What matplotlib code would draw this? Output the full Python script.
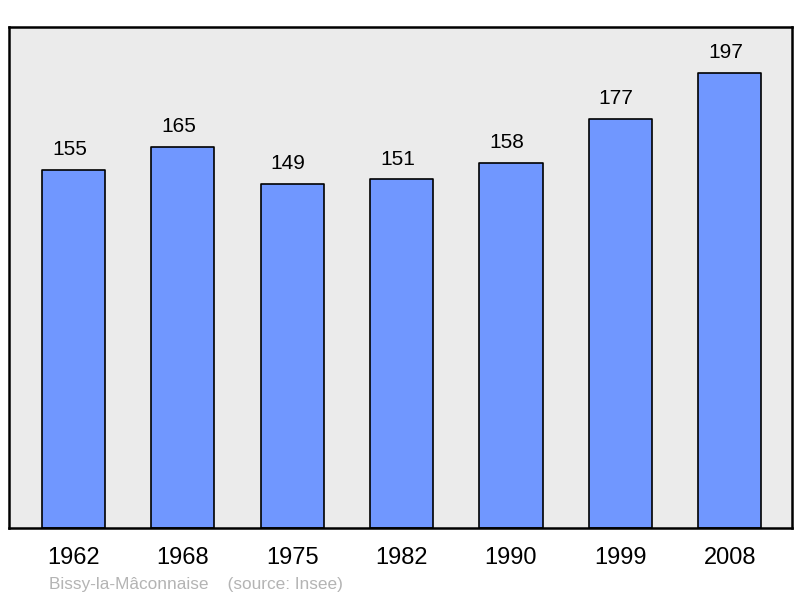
import matplotlib.pyplot as plt
from matplotlib.transforms import offset_copy

plt.rcParams["font.family"] = ["Liberation Sans", "DejaVu Sans"]

# Population data
years = ["1962", "1968", "1975", "1982", "1990", "1999", "2008"]
population = [155, 165, 149, 151, 158, 177, 197]

fig = plt.figure(figsize=(8, 5.98), dpi=100)
ax = fig.add_axes([9 / 800, 1 - 528 / 598, 783 / 800, 501 / 598])
ax.set_facecolor("#ebebeb")

x = range(len(years))
ax.bar(x, population, width=0.577, color="#7097ff", edgecolor="black",
       linewidth=1.2, joinstyle="round", zorder=2)

# Value labels above bars (slightly left of bar centre, as in the original)
label_tr = offset_copy(ax.transData, fig=fig, x=-4, y=0, units="dots")
for i, v in enumerate(population):
    ax.text(i, v + 4.7, str(v), ha="center", va="bottom", fontsize=15,
            transform=label_tr)

ax.set_xlim(-0.59, 6.57)
ax.set_ylim(0, 217)
ax.set_yticks([])
ax.set_xticks(list(x))
ax.set_xticklabels(years, fontsize=17)
ax.tick_params(axis="x", length=0, pad=14)

for spine in ax.spines.values():
    spine.set_linewidth(1.8)
    spine.set_color("black")

fig.text(49 / 800, 1 - 584 / 598, "Bissy-la-Mâconnaise    (source: Insee)",
         color="#b4b4b4", fontsize=12.4, va="center", ha="left")

fig.savefig("out.png", dpi=100)
